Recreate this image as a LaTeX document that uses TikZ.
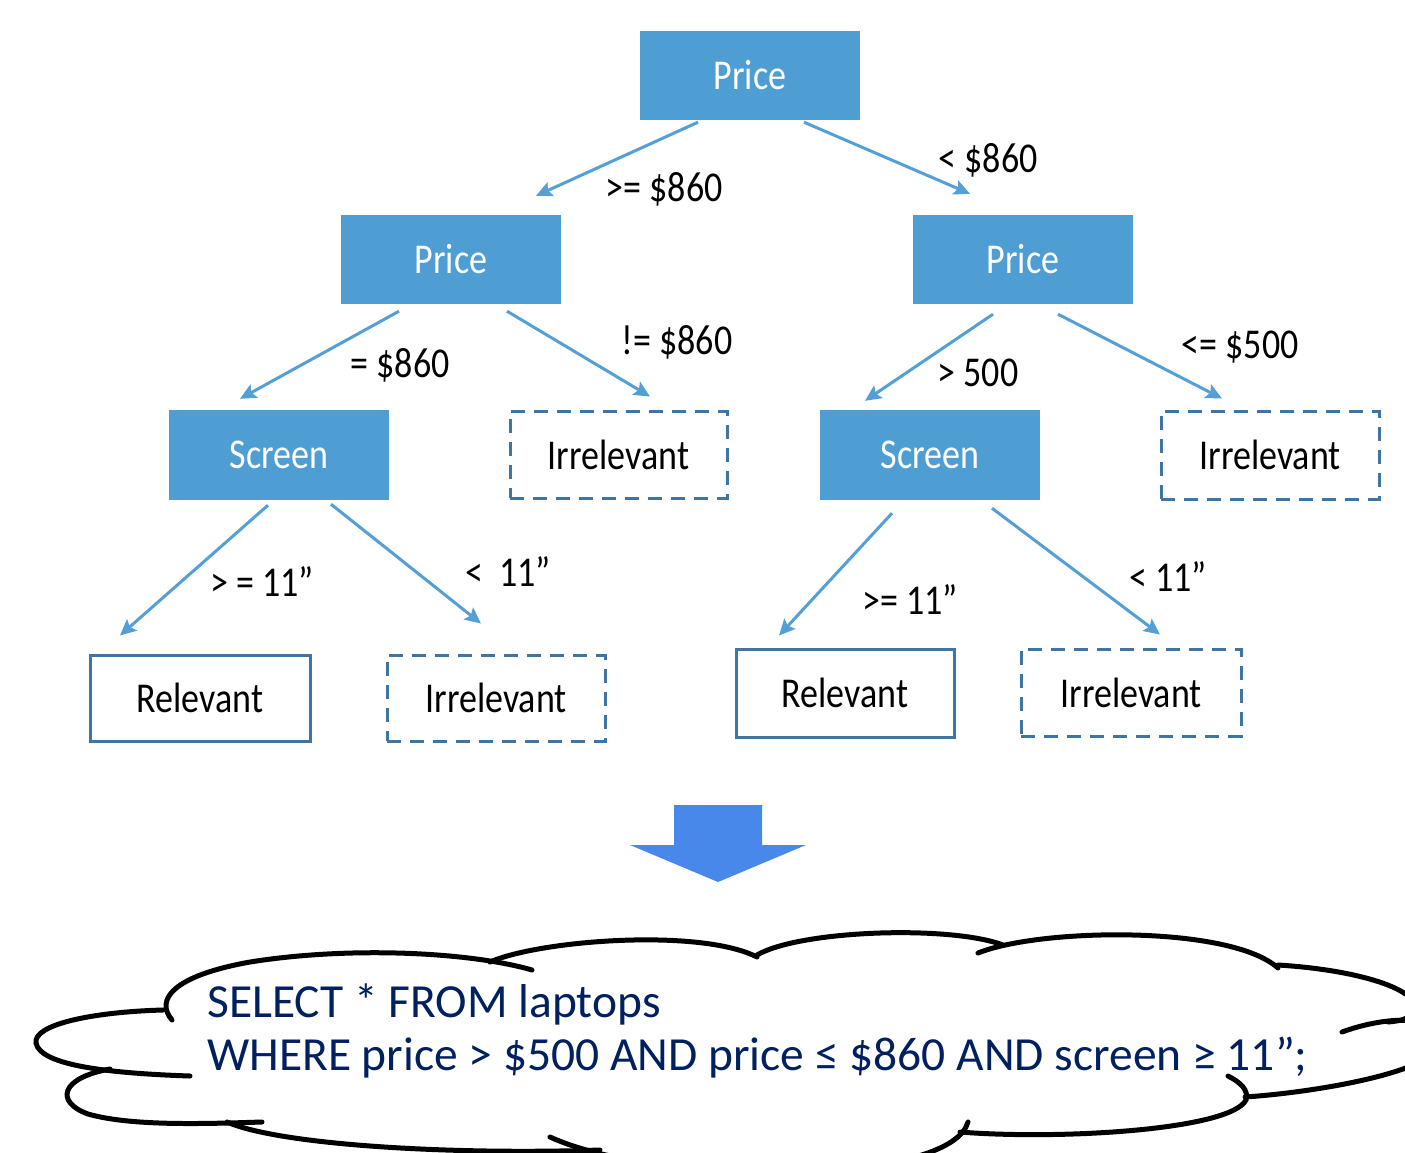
\documentclass[tikz,border=0pt]{standalone}
\usepackage{graphicx}
\usepackage{fontspec}
\setmainfont{Carlito}
\usetikzlibrary{arrows.meta}

\definecolor{boxblue}{RGB}{78,157,211}
\definecolor{edgeblue}{RGB}{84,160,214}
\definecolor{leafline}{RGB}{62,117,162}
\definecolor{downblue}{RGB}{72,136,234}
\definecolor{sqlnavy}{RGB}{0,32,96}

% tree text is set slightly taller than the font's natural shape
\newcommand\tallText[1]{\scalebox{1}[1.18]{#1}}

\tikzset{
  test/.style={fill=boxblue, draw=none, text=white, minimum width=220pt,
    minimum height=89pt, inner sep=0pt, font=\fontsize{36}{40}\selectfont},
  relevant/.style={draw=leafline, line width=3pt, fill=white, text=black,
    minimum width=218pt, minimum height=86pt, inner sep=0pt,
    font=\fontsize{36}{40}\selectfont},
  irrelevant/.style={relevant, dash pattern=on 14pt off 9pt},
  conn/.style={draw=edgeblue, line width=3pt,
    -{Stealth[length=16pt,width=15pt,inset=3pt]}},
  cond/.style={anchor=base, inner sep=0pt, text=black,
    font=\fontsize{36}{40}\selectfont},
  sql/.style={anchor=base west, inner sep=0pt, text=sqlnavy,
    font=\fontsize{47.5}{53}\selectfont},
  cloudline/.style={draw=black, line width=5pt, line cap=round}
}

\begin{document}
\begin{tikzpicture}[x=1pt, y=-1pt]
\useasboundingbox (0,0) rectangle (1405,1152);
\fill[white] (0,0) rectangle (1405,1152);

% decision nodes
\node[test] (root) at (750,75.5) {\tallText{Price}};
\node[test] (lp) at (451,259.5) {\tallText{Price}};
\node[test] (rp) at (1023,259.5) {\tallText{Price}};
\node[test, minimum height=90pt] (ls) at (279,455) {\tallText{Screen}};
\node[test, minimum height=90pt] (rs) at (930,455) {\tallText{Screen}};

% leaves
\node[irrelevant, minimum width=217pt, minimum height=87pt] (li) at (618.5,454.5) {\tallText{Irrelevant}};
\node[irrelevant, minimum height=88pt] (ri) at (1270,455) {\tallText{Irrelevant}};
\node[relevant, minimum width=220pt] (rel1) at (200,698) {\tallText{Relevant}};
\node[irrelevant] (irr1) at (496,698) {\tallText{Irrelevant}};
\node[relevant, minimum height=88pt] (rel2) at (845,693) {\tallText{Relevant}};
\node[irrelevant, minimum width=220pt, minimum height=87pt] (irr2) at (1131,692.5) {\tallText{Irrelevant}};

% branches
\draw[conn] ([xshift=-52pt,yshift=-2pt]root.south) -- ([xshift=85pt,yshift=19pt]lp.north);
\draw[conn] ([xshift=54pt,yshift=-2pt]root.south) -- ([xshift=-53pt,yshift=21pt]rp.north);
\draw[conn] ([xshift=-52pt,yshift=-7pt]lp.south) -- ([xshift=-39pt,yshift=11pt]ls.north);
\draw[conn] ([xshift=56pt,yshift=-7pt]lp.south) -- ([xshift=31.5pt,yshift=13pt]li.north);
\draw[conn] ([xshift=-30pt,yshift=-10pt]rp.south) -- ([xshift=-65pt,yshift=9pt]rs.north);
\draw[conn] ([xshift=35pt,yshift=-10pt]rp.south) -- ([xshift=-48pt,yshift=11pt]ri.north);
\draw[conn] ([xshift=-11pt,yshift=-5pt]ls.south) -- ([xshift=-80pt,yshift=18pt]rel1.north);
\draw[conn] ([xshift=52pt,yshift=-4pt]ls.south) -- ([xshift=-15pt,yshift=30pt]irr1.north);
\draw[conn] ([xshift=-38pt,yshift=-13pt]rs.south) -- ([xshift=-66pt,yshift=12pt]rel2.north);
\draw[conn] ([xshift=62pt,yshift=-8pt]rs.south) -- ([xshift=29pt,yshift=13pt]irr2.north);

% branch conditions
\node[cond] (c1) at (664,201) {\tallText{>= \$860}};
\node[cond] (c2) at (988,172) {\tallText{< \$860}};
\node[cond] (c3) at (400,377) {\tallText{= \$860}};
\node[cond] (c4) at (677,354) {\tallText{!= \$860}};
\node[cond] (c5) at (978,386) {\tallText{> 500}};
\node[cond] (c6) at (1240,358) {\tallText{<= \$500}};
\node[cond] (c7) at (262,596) {\tallText{> = 11”}};
\node[cond] (c8) at (508,586) {\tallText{<~~11”}};
\node[cond] (c9) at (910,614) {\tallText{>= 11”}};
\node[cond] (c10) at (1168,591) {\tallText{< 11”}};

% block arrow pointing down to the query
\fill[downblue] (674,805) -- (762,805) -- (762,845) -- (806,845) -- (718,882)
  -- (630,845) -- (674,845) -- cycle;

% cloud outline, lobe by lobe
\begin{scope}
\clip (0,0) rectangle (1405,1152);
\draw[cloudline] (172,1020) .. controls (155,1000) and (172,976) .. (250,962)
  .. controls (350,946) and (470,952) .. (532,970);
\draw[cloudline] (163,1010) .. controls (90,1012) and (33,1025) .. (36,1043)
  .. controls (40,1064) and (100,1073) .. (190,1076);
\draw[cloudline] (110,1069) .. controls (60,1078) and (55,1102) .. (88,1114)
  .. controls (130,1126) and (200,1124) .. (262,1122);
\draw[cloudline] (227,1122) .. controls (280,1145) and (450,1155) .. (600,1150);
\draw[cloudline] (550,1137) .. controls (600,1160) and (700,1175) .. (800,1172)
  .. controls (900,1168) and (960,1150) .. (968,1122);
\draw[cloudline] (960,1132) .. controls (1060,1140) and (1230,1130) .. (1246,1100)
  .. controls (1249,1090) and (1240,1082) .. (1228,1076);
\draw[cloudline] (1245,1097) .. controls (1320,1092) and (1445,1070) .. (1440,1040)
  .. controls (1435,1012) and (1380,1018) .. (1342,1032);
\draw[cloudline] (1278,965) .. controls (1360,970) and (1420,990) .. (1415,1010)
  .. controls (1410,1020) and (1398,1021) .. (1388,1022);
\draw[cloudline] (490,962) .. controls (540,940) and (700,928) .. (757,957);
\draw[cloudline] (757,955) .. controls (800,930) and (950,925) .. (1003,945);
\draw[cloudline] (978,953) .. controls (1040,928) and (1230,925) .. (1278,968);
\end{scope}

% query text
\node[sql] (q1) at (207,1017) {SELECT * FROM laptops};
\node[sql] (q2) at (207,1070) {WHERE price > \$500 AND price ≤ \$860 AND screen ≥ 11”;};
\end{tikzpicture}
\end{document}
